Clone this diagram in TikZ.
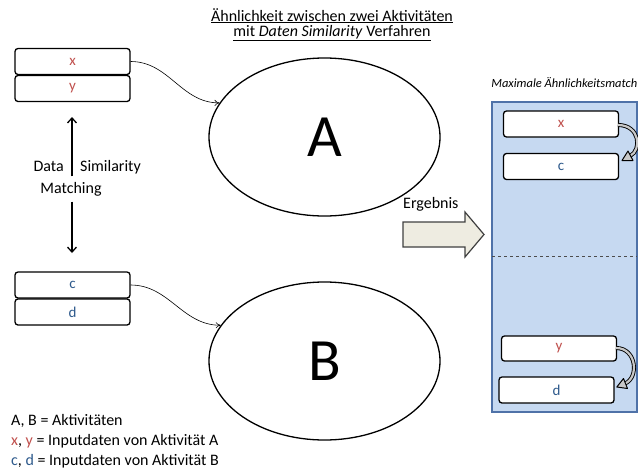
\documentclass[tikz,border=0pt]{standalone}
\usepackage{fontspec}
\setmainfont{Carlito}
\usetikzlibrary{shapes.geometric,arrows.meta}
\definecolor{datared}{HTML}{C0504D}
\definecolor{datablue}{HTML}{2E5A8C}
\definecolor{panelfill}{HTML}{C6D9F1}
\definecolor{panelline}{HTML}{4F72A8}
\definecolor{resultfill}{HTML}{EEECE1}
\definecolor{bendfill}{HTML}{C8C8C8}
\begin{document}
\begin{tikzpicture}[x=1pt,y=-1pt,
  txt/.style={font=\fontsize{16}{19}\selectfont, inner sep=0pt},
  databox/.style={draw, line width=1.3pt, rounded corners=3pt, fill=white,
    minimum width=115pt, minimum height=26pt, inner sep=0pt,
    font=\fontsize{15}{18}\selectfont},
  activity/.style={draw, ellipse, line width=1.3pt, minimum width=231pt,
    minimum height=158pt, inner sep=0pt, font=\fontsize{60}{60}\selectfont},
  feed/.style={-{To[length=5pt,width=6pt]}, line width=0.6pt},
  bendshaft/.style={line width=4pt},
  bendcore/.style={line width=2.2pt, draw=bendfill}]
\useasboundingbox (0,0) rectangle (638,472);

% heading
\node[txt, anchor=base] (title1) at (332,21) {\underline{Ähnlichkeit zwischen zwei Aktivitäten}};
\node[txt, anchor=base] (title2) at (332,36) {\underline{mit \textit{Daten Similarity} Verfahren}};

% input data of both activities
\node[databox, text=datared]  (x) at (72.5,61.5) {x};
\node[databox, text=datared]  (y) at (72.5,88.5) {y};
\node[databox, text=datablue] (c) at (72.5,285) {c};
\node[databox, text=datablue] (d) at (72.5,312) {d};

% activities
\node[activity] (A) at (324.5,137) {A};
\node[activity] (B) at (324.5,361) {B};

\draw[feed] (x.east) to[out=0,in=180] (A.162);
\draw[feed] (c.east) to[out=0,in=180] (B.161);

% data similarity matching between the inputs
\coordinate (mtop) at (72,117);
\coordinate (mbot) at (72,253);
\node[txt, minimum height=25pt, anchor=center] (match) at (71,189) {Matching};
\node[txt, anchor=base east] (datal) at (64,171) {Data};
\node[txt, anchor=base west] (siml) at (80,171) {Similarity};
\draw[-{Straight Barb[length=5pt,width=9pt]}, line width=1.3pt] (match.north -| mtop) -- (mtop);
\draw[-{Straight Barb[length=5pt,width=9pt]}, line width=1.3pt] (match.south -| mbot) -- (mbot);

% result arrow
\node[txt, anchor=base west] (result) at (403,208) {Ergebnis};
\draw[fill=resultfill, draw=black!75, line width=1.2pt, line join=miter]
  (403,222) -- (465,222) -- (465,212) -- (484,234.5) -- (465,257) -- (465,247) -- (403,247) -- cycle;

% maximal similarity match
\node[inner sep=0pt, anchor=base east, font=\fontsize{12.5}{15}\selectfont\itshape] (paneltitle) at (637.5,87) {Maximale Ähnlichkeitsmatch};
\fill[panelfill] (492,102) rectangle (637,412);
\draw[panelline, line width=1.2pt] (492,102) rectangle (637,412);
\draw[dashed, black!70, line width=0.7pt] (492,256) -- (637,256);

\node[databox, text=datared]  (px) at (561,124)   {x};
\node[databox, text=datablue] (pc) at (561,166.5) {c};
\node[databox, text=datared, minimum height=25pt] (py) at (559,348.5) {y};
\node[databox, text=datablue] (pd) at (556.5,390) {d};

% bent arrows pairing the matched inputs
\coordinate (bx) at (618,125);
\coordinate (by) at (616,348);
\draw[bendshaft] (bx) .. controls (640,125) and (642,150) .. (630,156);
\draw[bendcore]  (bx) .. controls (640,125) and (642,150) .. (630,156);
\draw[fill=bendfill, line width=1pt, line join=round] (622,160.5) -- (633,160.5) -- (628,151) -- cycle;

\draw[bendshaft] (by) .. controls (637,348) and (639,378) .. (625,383.5);
\draw[bendcore]  (by) .. controls (637,348) and (639,378) .. (625,383.5);
\draw[fill=bendfill, line width=1pt, line join=round] (616.8,387) -- (627.5,388.5) -- (623.5,378.5) -- cycle;

% legend
\node[txt, anchor=base west] (leg1) at (11,425) {A, B = Aktivitäten};
\node[txt, anchor=base west] (leg2) at (11,445) {\textcolor{datared}{x}, \textcolor{datared}{y} = Inputdaten von Aktivität A};
\node[txt, anchor=base west] (leg3) at (11,465) {\textcolor{datablue}{c}, \textcolor{datablue}{d} = Inputdaten von Aktivität B};
\end{tikzpicture}
\end{document}
